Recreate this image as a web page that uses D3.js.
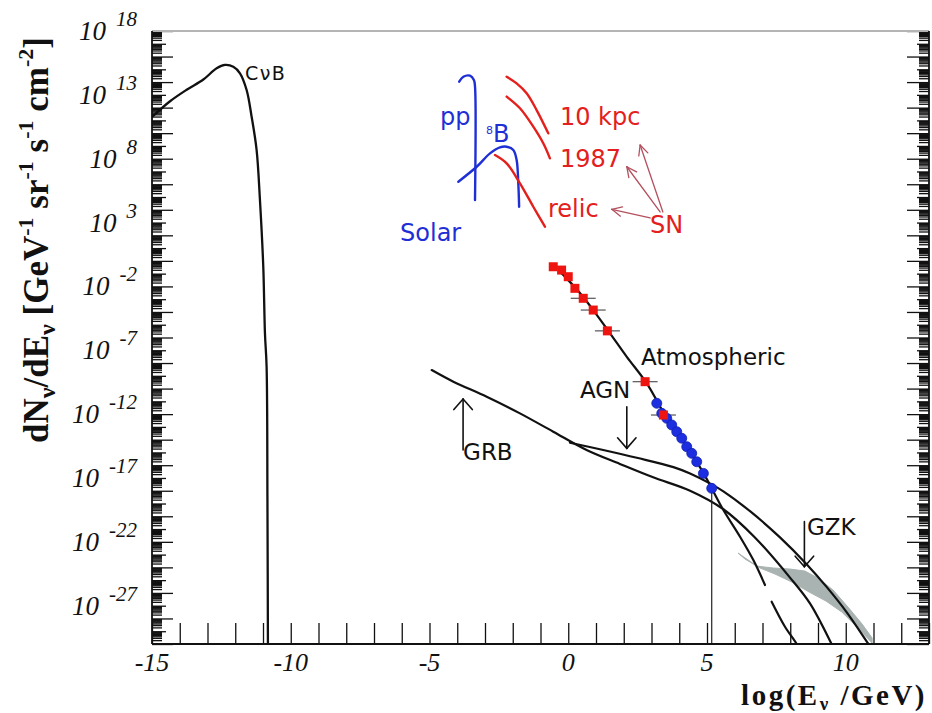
<!DOCTYPE html>
<html><head><meta charset="utf-8">
<script src="https://cdn.jsdelivr.net/npm/d3@7"></script>
<style>body{margin:0;background:#fff}</style>
</head><body>
<svg id="chart" width="932" height="713"></svg>
<script>
// ---------------- data (x = log10(E/GeV), y = log10 flux) ----------------
const xTickValues = d3.range(-15, 14, 1);
const xTickLabels = [-15, -10, -5, 0, 5, 10];
const yLabelExponents = [18, 13, 8, 3, -2, -7, -12, -17, -22, -27];

const cnbE = [-15, -14.35, -13.75, -13.15, -12.67, -12.37, -12.07, -11.83, -11.59, -11.41, -11.23, -11.11, -10.99, -10.93, -10.87, -10.84, -10.82];
const cnbF = [11.27, 12.5, 13.4, 14.2, 15.08, 15.34, 15.2, 14.69, 13.38, 11.29, 8.68, 4.77, -0.46, -5.65, -8.31, -18.73, -32];

const ppE = [-3.93, -3.78, -3.54, -3.40, -3.36, -3.36];
const ppF = [14.03, 14.42, 14.5, 14.16, 13.64, 4.77];
const b8E = [-3.96, -3.30, -2.82, -2.46, -2.22, -1.98, -1.86, -1.80, -1.77];
const b8F = [6.2, 7.37, 8.42, 8.89, 8.94, 8.68, 7.9, 6.07, 4.24];

const sn10kpcE = [-2.22, -1.86, -1.50, -1.14, -0.72];
const sn10kpcF = [14.42, 13.9, 13.12, 11.81, 9.99];
const sn1987E = [-2.22, -1.74, -1.26, -0.90, -0.66];
const sn1987F = [12.86, 11.95, 10.51, 9.21, 8.03];
const snRelicE = [-2.64, -2.22, -1.74, -1.26, -0.84];
const snRelicF = [8.29, 7.64, 6.07, 4.24, 2.68];

const atmE = [-0.3, -0.06, 0.42, 0.90, 1.50, 2.11, 2.83, 3.55, 4.27, 4.87, 5.17, 5.59, 6.19, 6.67, 7.09];
const atmF = [-0.85, -1.37, -2.52, -3.85, -5.65, -7.51, -9.59, -12.3, -14.5, -16.6, -17.81, -19.51, -21.6, -23.43, -25.38];
const atmTailE = [7.33, 7.81, 8.23, 8.35];
const atmTailF = [-26.69, -28.65, -30.0, -30.6];

const grbE = [-4.92, -4.14, -2.94, -1.74, -0.54, 0.66, 1.86, 3.06, 4.39, 5.59, 6.7, 7.99, 8.71, 9.49, 9.6];
const grbF = [-8.55, -9.46, -10.64, -11.94, -13.38, -14.81, -15.9, -16.95, -18.0, -19.45, -21.6, -24.8, -26.82, -30.0, -30.5];

const agnE = [0.06, 1.26, 2.47, 3.79, 4.39, 5.17, 5.59, 6.55, 7.63, 8.59, 9.31, 10.03, 10.82, 10.95];
const agnF = [-14.24, -14.81, -15.42, -16.15, -16.65, -17.5, -18.05, -19.6, -21.65, -23.75, -25.53, -27.5, -30.0, -30.4];

const gzkBandE = [6.12, 6.80, 7.38, 7.99, 8.53, 9.00, 9.54, 10.08, 10.59, 10.95, 10.95, 10.44, 9.86, 9.29, 8.68, 8.06, 7.45, 6.91, 6.37];
const gzkBandF = [-22.88, -23.9, -24.05, -24.13, -24.29, -24.83, -25.77, -27.11, -28.44, -29.53, -29.92, -28.75, -27.5, -26.64, -25.93, -25.15, -24.52, -24.05, -23.35];

const amandaE = [3.19, 3.37, 3.55, 3.73, 3.91, 4.09, 4.27, 4.45, 4.63, 4.87, 5.17];
const amandaF = [-11.15, -11.94, -12.33, -12.85, -13.38, -13.89, -14.55, -15.07, -15.73, -16.64, -17.81];

const frejusE = [-0.54, -0.24, 0.0, 0.24, 0.54, 0.90, 1.41, 2.77, 3.43];
const frejusF = [-0.46, -0.72, -1.24, -2.15, -2.93, -3.85, -5.48, -9.46, -12.07];
const frejusErr = [0, 0, 0, 0, 0.45, 0.45, 0.45, 0.45, 0.45];

const cutE = [5.17, 5.17];
const cutF = [-17.81, -30];

// labels: text, x (log E), y (log flux) of baseline start
const blackLabels = ["CνB", "Atmospheric", "AGN", "GRB", "GZK"];
const blackLabelE = [-11.65, 2.62, 0.42, -3.79, 8.6];
const blackLabelF = [14.15, -8.16, -10.74, -15.59, -21.47];
const blueLabels = ["pp", "Solar"];
const blueLabelE = [-4.62, -6.06];
const blueLabelF = [10.64, 1.56];
const redLabels = ["10 kpc", "1987", "relic", "SN"];
const redLabelE = [-0.30, -0.30, -0.73, 2.95];
const redLabelF = [10.64, 7.35, 3.43, 2.18];

// arrows: [x0, y0, x1, y1] tail -> head
const blackArrows = [[-3.79, -14.81, -3.79, -10.82], [2.11, -11.42, 2.11, -14.68], [8.51, -20.42, 8.51, -23.95]];
const snArrows = [[3.41, 3.83, 2.59, 9.07], [3.31, 3.83, 2.11, 7.37], [2.95, 3.36, 1.57, 4.04]];

// ---------------- chart ----------------
const svg = d3.select("#chart");
const L = 152, R = 929, T = 31, B = 644;
const x = d3.scaleLinear().domain([-15, 13]).range([L, R]);
const y = d3.scaleLog().domain([1e-30, 1e18]).range([B, T]);
const Y = v => y(Math.pow(10, v));

const serif = "'Liberation Serif','Times New Roman',serif";
const sans = "'DejaVu Sans',sans-serif";
const BLUE = "#1f2fd6", RED = "#e3201c";

svg.append("rect").attr("width", 932).attr("height", 713).attr("fill", "#fff");

svg.append("defs").append("clipPath").attr("id", "plotclip")
  .append("rect").attr("x", L).attr("y", T).attr("width", R - L).attr("height", B - T);

const plot = svg.append("g").attr("clip-path", "url(#plotclip)");

const line = d3.line().x(d => x(d[0])).y(d => Y(d[1])).curve(d3.curveCatmullRom.alpha(0.5));
const lineLin = d3.line().x(d => x(d[0])).y(d => Y(d[1]));

// GZK band
plot.append("path").datum(d3.zip(gzkBandE, gzkBandF))
  .attr("d", d3.line().x(d => x(d[0])).y(d => Y(d[1])).curve(d3.curveLinearClosed))
  .attr("fill", "#a9b3b1").attr("stroke", "#a9b3b1").attr("stroke-width", 1);

function curve(E, F, color, w) {
  plot.append("path").datum(d3.zip(E, F)).attr("d", line)
    .attr("fill", "none").attr("stroke", color).attr("stroke-width", w)
    .attr("stroke-linejoin", "round").attr("stroke-linecap", "round");
}
curve(cnbE, cnbF, "#111", 2.3);
curve(ppE, ppF, BLUE, 2.4);
curve(b8E, b8F, BLUE, 2.4);
curve(sn10kpcE, sn10kpcF, RED, 2.4);
curve(sn1987E, sn1987F, RED, 2.4);
curve(snRelicE, snRelicF, RED, 2.4);
curve(grbE, grbF, "#111", 2.2);
curve(agnE, agnF, "#111", 2.2);
curve(atmE, atmF, "#111", 2.2);
curve(atmTailE, atmTailF, "#111", 2.2);
plot.append("path").datum(d3.zip(cutE, cutF)).attr("d", lineLin)
  .attr("stroke", "#222").attr("stroke-width", 1.2).attr("fill", "none");

// Frejus (red) with error bars
const fr = d3.zip(frejusE, frejusF, frejusErr);
plot.selectAll(".ferr").data(fr.filter(d => d[2] > 0)).join("line")
  .attr("x1", d => x(d[0] - d[2])).attr("x2", d => x(d[0] + d[2]))
  .attr("y1", d => Y(d[1])).attr("y2", d => Y(d[1]))
  .attr("stroke", "#555").attr("stroke-width", 1.2);

// AMANDA (blue)
plot.selectAll(".am").data(d3.zip(amandaE, amandaF)).join("circle")
  .attr("cx", d => x(d[0])).attr("cy", d => Y(d[1])).attr("r", 5)
  .attr("fill", "#1c2ee0").attr("stroke", "#1020b0").attr("stroke-width", 0.8);

plot.selectAll(".fr").data(fr).join("rect")
  .attr("x", d => x(d[0]) - 4.5).attr("y", d => Y(d[1]) - 4.5)
  .attr("width", 9).attr("height", 9).attr("fill", "#ee1410");

// arrows
function arrow(a, color, w, head, half) {
  const x0 = x(a[0]), y0 = Y(a[1]), x1 = x(a[2]), y1 = Y(a[3]);
  const ang = Math.atan2(y1 - y0, x1 - x0);
  const g = plot.append("g").attr("stroke", color).attr("stroke-width", w).attr("fill", "none")
    .attr("stroke-linecap", "round");
  g.append("line").attr("x1", x0).attr("y1", y0).attr("x2", x1).attr("y2", y1);
  [1, -1].forEach(s => {
    const a2 = ang + Math.PI - s * half;
    g.append("line").attr("x1", x1).attr("y1", y1)
      .attr("x2", x1 + head * Math.cos(a2)).attr("y2", y1 + head * Math.sin(a2));
  });
}
blackArrows.forEach(a => arrow(a, "#111", 1.6, 14, 0.72));
snArrows.forEach(a => arrow(a, "#b4505e", 1.3, 11, 0.45));

// labels
function labels(txt, E, F, color, size) {
  plot.selectAll(null).data(d3.zip(txt, E, F)).join("text")
    .attr("x", d => x(d[1])).attr("y", d => Y(d[2]))
    .attr("font-family", sans).attr("font-size", size).attr("fill", color)
    .text(d => d[0]);
}
labels(blackLabels.slice(1), blackLabelE.slice(1), blackLabelF.slice(1), "#111", 23);
plot.append("text").attr("x", x(blackLabelE[0])).attr("y", Y(blackLabelF[0]))
  .attr("font-family", sans).attr("font-size", 19).attr("fill", "#111")
  .attr("letter-spacing", 1.5).text(blackLabels[0]);
labels(blueLabels, blueLabelE, blueLabelF, BLUE, 24);
labels(redLabels, redLabelE, redLabelF, RED, 24);
const b8 = plot.append("text").attr("x", x(-2.96)).attr("y", Y(9.31))
  .attr("font-family", sans).attr("fill", BLUE);
b8.append("tspan").attr("font-size", 11).attr("dy", -8).text("8");
b8.append("tspan").attr("font-size", 24).attr("dy", 8).text("B");

// ---------------- axes ----------------
const decades = d3.range(-30, 19);
const evenDec = decades.filter(d => d % 2 === 0).map(d => Math.pow(10, d));
const oddDec = decades.filter(d => d % 2 !== 0).map(d => Math.pow(10, d));
const minorDec = [];
decades.slice(0, -1).forEach(d => { for (let k = 2; k <= 9; k++) minorDec.push(k * Math.pow(10, d)); });

function yTicks(gen, vals, size) {
  const g = svg.append("g").call(gen.tickValues(vals).tickSize(size).tickFormat(""));
  g.select(".domain").remove();
  g.selectAll("line").attr("stroke", "#111").attr("stroke-width", 1.3);
  return g;
}
yTicks(d3.axisLeft(y), evenDec, -21).attr("transform", `translate(${L},0)`);
yTicks(d3.axisLeft(y), oddDec, -14).attr("transform", `translate(${L},0)`);
yTicks(d3.axisLeft(y), minorDec, -10).attr("transform", `translate(${L},0)`);
yTicks(d3.axisRight(y), evenDec, -22).attr("transform", `translate(${R},0)`);
yTicks(d3.axisRight(y), oddDec, -12).attr("transform", `translate(${R},0)`);
yTicks(d3.axisRight(y), minorDec, -10).attr("transform", `translate(${R},0)`);

const gb = svg.append("g").attr("transform", `translate(0,${B})`)
  .call(d3.axisBottom(x).tickValues(xTickValues).tickSize(-21).tickFormat(""));
gb.select(".domain").remove();
gb.selectAll("line").attr("stroke", "#111").attr("stroke-width", 1.3);

// frame
svg.append("line").attr("x1", L).attr("x2", R).attr("y1", T).attr("y2", T)
  .attr("stroke", "#b4b4b4").attr("stroke-width", 2);
svg.append("line").attr("x1", L).attr("x2", L).attr("y1", T).attr("y2", B)
  .attr("stroke", "#111").attr("stroke-width", 1.8);
svg.append("line").attr("x1", R).attr("x2", R).attr("y1", T).attr("y2", B)
  .attr("stroke", "#111").attr("stroke-width", 1.8);
svg.append("line").attr("x1", L).attr("x2", R).attr("y1", B).attr("y2", B)
  .attr("stroke", "#111").attr("stroke-width", 1.8);

// x tick labels
svg.selectAll(".xl").data(xTickLabels).join("text")
  .attr("x", d => x(d)).attr("y", 671).attr("text-anchor", "middle")
  .attr("font-family", serif).attr("font-style", "italic").attr("font-size", 26)
  .attr("fill", "#111").text(d => String(d));

// y tick labels 10^n
svg.selectAll(".yl").data(yLabelExponents).join("text")
  .attr("x", 137).attr("y", d => Y(d) + 9).attr("text-anchor", "end")
  .attr("font-family", serif).attr("font-style", "italic").attr("fill", "#111")
  .each(function (d) {
    const t = d3.select(this);
    t.append("tspan").attr("font-size", 27).text("10");
    t.append("tspan").attr("font-size", 21).attr("dx", 10).attr("dy", -14).text(String(d));
  });

// axis titles
const xt = svg.append("text").attr("x", 927).attr("y", 705).attr("text-anchor", "end")
  .attr("font-family", serif).attr("font-weight", "bold").attr("font-size", 29).attr("fill", "#111")
  .attr("letter-spacing", 2.5);
xt.append("tspan").text("log(E");
xt.append("tspan").attr("font-size", 19).attr("dy", 5).text("ν");
xt.append("tspan").attr("dy", -5).text(" /GeV)");

const yt = svg.append("text").attr("transform", "translate(48,240) rotate(-90)")
  .attr("text-anchor", "middle").attr("font-family", serif).attr("font-weight", "bold")
  .attr("font-size", 35).attr("fill", "#111");
const parts = [["dN", 0, 35], ["ν", 7, 24], ["/dE", -7, 35], ["ν", 7, 24], [" [GeV", -7, 35],
  ["-1", -15, 22], [" sr", 15, 35], ["-1", -15, 22], [" s", 15, 35], ["-1", -15, 22],
  [" cm", 15, 35], ["-2", -15, 22], ["]", 15, 35]];
parts.forEach(p => yt.append("tspan").attr("dy", p[1]).attr("font-size", p[2]).text(p[0]));
</script>
</body></html>
